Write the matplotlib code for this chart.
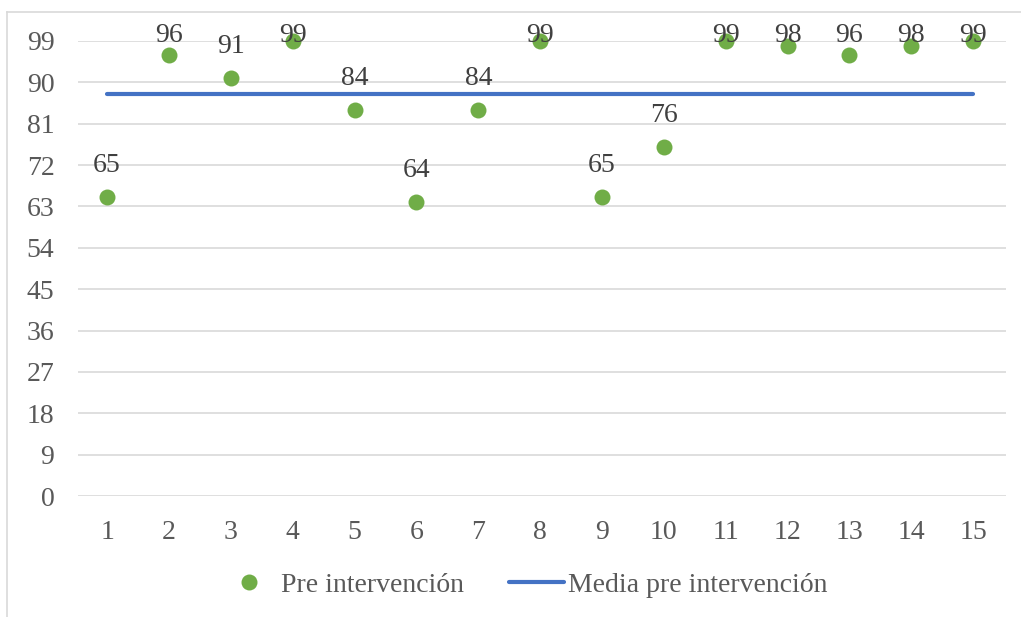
import numpy as np
import matplotlib.pyplot as plt
from matplotlib.lines import Line2D

plt.rcParams['font.family'] = ['Liberation Serif', 'DejaVu Serif']

sesiones = list(range(1, 16))
pre_intervencion = [65, 96, 91, 99, 84, 64, 84, 99, 65, 76, 99, 98, 96, 98, 99]
y_ticks = [0, 9, 18, 27, 36, 45, 54, 63, 72, 81, 90, 99]
media = np.mean(pre_intervencion)

verde = '#70AD47'
azul = '#4472C4'
gris_txt = '#595959'
fs = 20

fig = plt.figure(figsize=(10.21, 6.17), dpi=100)
ax = fig.add_axes([78 / 1021, 1 - 496 / 617, 928 / 1021, 455 / 617])

# linea de la media pre intervencion
ax.plot([sesiones[0], sesiones[-1]], [media, media], color=azul, lw=3,
        solid_capstyle='round', zorder=2)
ax.scatter(sesiones, pre_intervencion, s=11.5 ** 2, color=verde,
           zorder=3, clip_on=False, linewidths=0)

# etiquetas de valor (no pasan del borde superior)
for x, v in zip(sesiones, pre_intervencion):
    ax.text(x, min(v + 5.4, 98.7), str(v), ha='center', va='baseline',
            fontsize=fs, color='#404040', zorder=4, clip_on=False)

ax.set_xlim(0.53, 15.53)
ax.set_ylim(0, 99)
ax.set_xticks(sesiones)
ax.set_yticks(y_ticks)
ax.tick_params(axis='both', length=0, labelsize=fs, labelcolor=gris_txt)
ax.tick_params(axis='y', pad=17)
ax.tick_params(axis='x', pad=17)
ax.grid(axis='y', color='#D9D9D9', lw=1.2)
ax.set_axisbelow(True)
for s in ax.spines.values():
    s.set_visible(False)

handles = [
    Line2D([], [], ls='none', marker='o', ms=11.5, color=verde, mec='none'),
    Line2D([], [], color=azul, lw=3, solid_capstyle='round'),
]
fig.legend(handles, ['Pre intervención', 'Media pre intervención'],
           loc='center', bbox_to_anchor=(0.514, 1 - 585 / 617), ncol=2,
           frameon=False, fontsize=fs, labelcolor=gris_txt,
           handlelength=2.0, handletextpad=0.15, columnspacing=1.6,
           borderpad=0)

# marco del grafico
fig.add_artist(Line2D([7 / 1021, 1], [1 - 12 / 617, 1 - 12 / 617],
                      color='#D9D9D9', lw=1.2, transform=fig.transFigure))
fig.add_artist(Line2D([7 / 1021, 7 / 1021], [0, 1 - 12 / 617],
                      color='#D9D9D9', lw=1.2, transform=fig.transFigure))

fig.savefig('out.png', dpi=100)
